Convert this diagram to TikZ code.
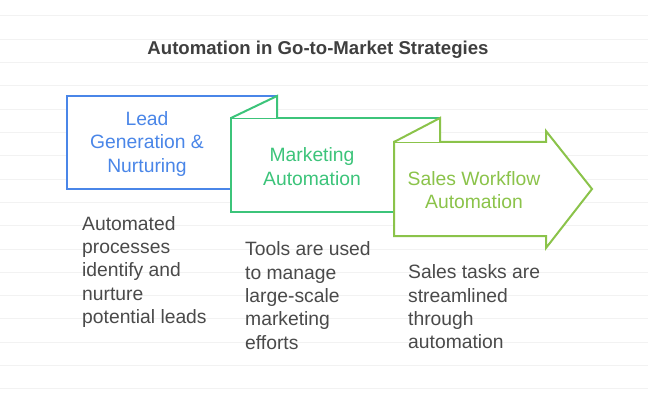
\documentclass[tikz,border=0pt]{standalone}
\usepackage{fontspec}
\setmainfont{Liberation Sans}
\definecolor{cblue}{HTML}{4A86E8}
\definecolor{cgreen}{HTML}{3CC47A}
\definecolor{cyell}{HTML}{8BC34A}
\definecolor{ctext}{HTML}{4A4A4A}
\definecolor{ctitle}{HTML}{3F3F3F}
\definecolor{crule}{HTML}{F2F2F2}
\begin{document}
\begin{tikzpicture}[x=1pt,y=-1pt,
  outl/.style={line width=2pt,fill=white,line join=miter},
  boxtext/.style={align=center,font=\fontsize{19.3}{23.3}\selectfont,inner sep=0pt},
  desc/.style={align=left,anchor=west,text=ctext,font=\fontsize{19.3}{23.3}\selectfont,inner sep=0pt}]
\useasboundingbox (0,0) rectangle (648,401);
\fill[white] (0,0) rectangle (648,401);
\foreach \k in {0,...,16}{\draw[crule,line width=1pt] (0,16+23.3*\k) -- (648,16+23.3*\k);}
\node[font=\fontsize{18.6}{20}\selectfont\bfseries,text=ctitle] (title) at (318,50) {Automation in Go-to-Market Strategies};
% blue
\draw[outl,draw=cblue] (67,96) rectangle (277,189);
% green
\draw[outl,draw=cgreen] (231,118) -- (440,118) -- (440,212) -- (231,212) -- cycle;
\draw[outl,draw=cgreen] (231,118) -- (277,96) -- (277,118);
% yellow arrow
\draw[outl,draw=cyell] (394,142) -- (546,142) -- (546,131) -- (592,189) -- (546,248) -- (546,236) -- (394,236) -- cycle;
\draw[outl,draw=cyell] (394,142) -- (440,118) -- (440,142);
\node[boxtext,text=cblue] (t1) at (147,144) {Lead\\Generation \&\\Nurturing};
\node[boxtext,text=cgreen] (t2) at (312,166.5) {Marketing\\Automation};
\node[boxtext,text=cyell] (t3) at (474,190) {Sales Workflow\\Automation};
\node[desc] (d1) at (82,272) {Automated\\processes\\identify and\\nurture\\potential leads};
\node[desc] (d2) at (245,295.5) {Tools are used\\to manage\\large-scale\\marketing\\efforts};
\node[desc] (d3) at (408,307) {Sales tasks are\\streamlined\\through\\automation};
\end{tikzpicture}
\end{document}
